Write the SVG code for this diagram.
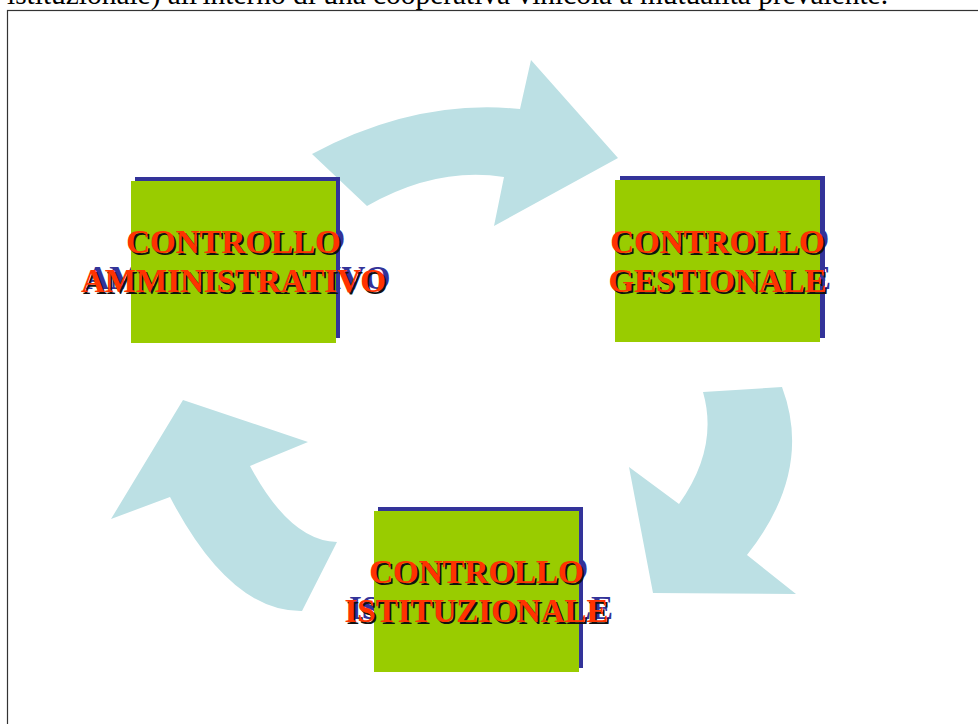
<svg xmlns="http://www.w3.org/2000/svg" width="978" height="724" viewBox="0 0 978 724">
<style>
.frame{fill:none;stroke:#333;stroke-width:1.2}
.cap{font-family:"Liberation Serif","Times New Roman",serif;font-size:29.4px;fill:#000}
.arrow{fill:#BCE0E4;stroke:none}
.shadow{fill:#333399}
.box{fill:#99CC00}
.lbl{font-family:"Liberation Serif","Times New Roman",serif;font-weight:bold;font-size:33px;text-anchor:middle}
.blue{fill:#333399}
.blk{fill:#111}
.red{fill:#FF3300}
</style>
<rect width="978" height="724" fill="#fff"/>
<text class="cap" x="7" y="3.5">istituzionale) all'interno di una cooperativa vinicola a mutualità prevalente.</text>
<rect class="frame" x="7.5" y="10.5" width="1000" height="800"/>

<g id="connectors">
  <path id="arrow-top" class="arrow" d="M312,154 Q416,98.5 520,109 L531,60 L618,158 L494,226 L504,177 Q436.5,166.5 367,206 Z"/>
  <path id="arrow-right" class="arrow" d="M782,387 Q813.5,471 747,555 L796,594 L653,593 L629,467 L679,504 Q719,448 703,392 Z"/>
  <path id="arrow-left" class="arrow" d="M302,611 Q230,612 170,497 L111,519 L183,400 L308,442 L250,466 Q290,541 337,542 Z"/>
</g>

<g id="node-amministrativo">
  <rect class="shadow" x="135" y="177" width="205" height="161"/>
  <text class="lbl blue" x="238" y="250">CONTROLLO</text>
  <text class="lbl blue" x="238" y="289">AMMINISTRATIVO</text>
  <rect class="box" x="131" y="181" width="205" height="162"/>
  <text class="lbl blk" x="235.5" y="255">CONTROLLO</text>
  <text class="lbl blk" x="235.5" y="294">AMMINISTRATIVO</text>
  <text class="lbl red" x="233.5" y="253">CONTROLLO</text>
  <text class="lbl red" x="233.5" y="292">AMMINISTRATIVO</text>
</g>

<g id="node-gestionale">
  <rect class="shadow" x="620" y="176" width="205" height="162"/>
  <text class="lbl blue" x="722" y="250">CONTROLLO</text>
  <text class="lbl blue" x="722" y="289">GESTIONALE</text>
  <rect class="box" x="615" y="180" width="205" height="162"/>
  <text class="lbl blk" x="719.5" y="255">CONTROLLO</text>
  <text class="lbl blk" x="719.5" y="294">GESTIONALE</text>
  <text class="lbl red" x="717.5" y="253">CONTROLLO</text>
  <text class="lbl red" x="717.5" y="292">GESTIONALE</text>
</g>

<g id="node-istituzionale">
  <rect class="shadow" x="378" y="507" width="205" height="161"/>
  <text class="lbl blue" x="481" y="580">CONTROLLO</text>
  <text class="lbl blue" x="481" y="619">ISTITUZIONALE</text>
  <rect class="box" x="374" y="511" width="205" height="161"/>
  <text class="lbl blk" x="478.5" y="585">CONTROLLO</text>
  <text class="lbl blk" x="478.5" y="624">ISTITUZIONALE</text>
  <text class="lbl red" x="476.5" y="583">CONTROLLO</text>
  <text class="lbl red" x="476.5" y="622">ISTITUZIONALE</text>
</g>
</svg>
